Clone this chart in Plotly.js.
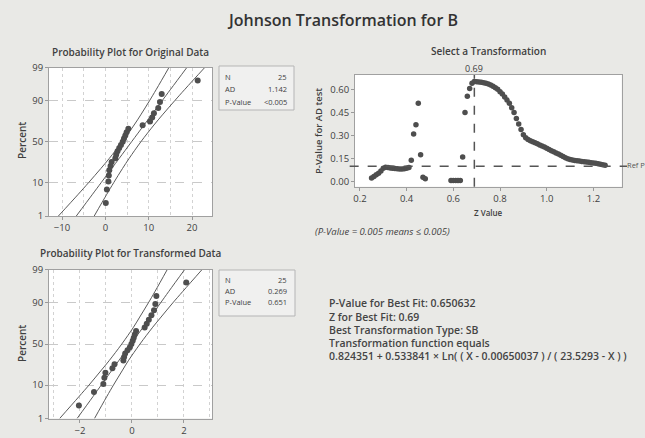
<!DOCTYPE html>
<html><head><meta charset="utf-8">
<script src="https://cdn.plot.ly/plotly-3.0.1.min.js"></script>
<style>html,body{margin:0;padding:0;background:#e9e9e6;}#chart{width:645px;height:438px;}</style>
</head><body><div id="chart"></div>
<script>
// ---------- data ----------
const probTickPct = [1, 10, 50, 90, 99];
const probTickText = ["1", "10", "50", "90", "99"];

const origX = [0.1, 0.35, 0.7, 0.8, 0.9, 1.2, 1.45, 2.3, 2.5, 2.8, 3.2, 3.6, 4.0, 4.3, 4.6, 4.9, 5.3, 8.6, 10.3, 10.8, 11.2, 12.2, 12.6, 13.0, 21.3];
const rankPct = [2.76, 6.69, 10.63, 14.57, 18.50, 22.44, 26.38, 30.31, 34.25, 38.19, 42.13, 46.06, 50.00, 53.94, 57.87, 61.81, 65.75, 69.69, 73.62, 77.56, 81.50, 85.43, 89.37, 93.31, 97.24];
const bandPct = [1, 5, 10, 20, 30, 50, 70, 80, 90, 95, 99];
const origFit = [-6.70, -2.96, -0.97, 1.44, 3.18, 6.05, 8.92, 10.66, 13.07, 15.06, 18.80];
const origLower = [-10.83, -6.25, -3.87, -1.06, 0.89, 3.90, 6.63, 8.16, 10.17, 11.77, 14.67];
const origUpper = [-2.57, 0.33, 1.93, 3.94, 5.47, 8.20, 11.21, 13.16, 15.97, 18.35, 22.93];
const origStatLabels = ["N", "AD", "P-Value"];
const origStatValues = ["25", "1.142", "<0.005"];

const transX = [-2.04, -1.46, -1.10, -1.06, -1.02, -0.75, -0.67, -0.33, -0.30, -0.26, -0.17, -0.08, -0.02, 0.03, 0.07, 0.11, 0.16, 0.49, 0.57, 0.65, 0.75, 0.85, 0.90, 0.94, 2.09];
const transFit = [-2.11, -1.50, -1.18, -0.79, -0.51, -0.04, 0.43, 0.71, 1.10, 1.42, 2.03];
const transLower = [-2.78, -2.04, -1.65, -1.20, -0.88, -0.39, 0.06, 0.30, 0.63, 0.89, 1.36];
const transUpper = [-1.44, -0.97, -0.71, -0.38, -0.14, 0.31, 0.80, 1.12, 1.57, 1.96, 2.70];
const transStatLabels = ["N", "AD", "P-Value"];
const transStatValues = ["25", "0.269", "0.651"];

const zValue = [0.25,0.26,0.27,0.28,0.29,0.30,0.31,0.32,0.33,0.34,0.35,0.36,0.37,0.38,0.39,0.40,0.41,
  0.42,0.43,0.44,0.45,0.46,0.47,0.48,
  0.59,0.60,0.61,0.62,0.63,
  0.64,0.65,0.66,0.67,0.68,0.69,0.70,0.71,0.72,0.73,0.74,0.75,0.76,0.77,0.78,0.79,
  0.80,0.81,0.82,0.83,0.84,0.85,0.86,0.87,0.88,0.89,0.90,0.91,0.92,0.93,0.94,0.95,0.96,0.97,0.98,0.99,
  1.00,1.01,1.02,1.03,1.04,1.05,1.06,1.07,1.08,1.09,1.10,1.11,1.12,1.13,1.14,1.15,1.16,1.17,1.18,1.19,
  1.20,1.21,1.22,1.23,1.24,1.25];
const adPValue = [0.025,0.035,0.045,0.055,0.070,0.088,0.095,0.093,0.090,0.088,0.086,0.084,0.083,0.083,0.085,0.088,0.092,
  0.14,0.31,0.37,0.51,0.175,0.03,0.02,
  0.008,0.008,0.008,0.008,0.008,
  0.16,0.45,0.555,0.605,0.64,0.6506,0.649,0.648,0.646,0.643,0.640,0.635,0.628,0.620,0.610,0.600,
  0.585,0.570,0.550,0.530,0.510,0.480,0.450,0.410,0.375,0.340,0.305,0.285,0.275,0.267,0.260,0.253,0.246,0.239,0.232,0.225,
  0.217,0.210,0.202,0.195,0.187,0.180,0.172,0.164,0.156,0.150,0.145,0.141,0.138,0.136,0.134,0.132,0.130,0.128,0.126,0.124,
  0.122,0.120,0.117,0.114,0.111,0.108];
const bestZ = 0.69;
const refP = 0.10;
const pTickVals = [0, 0.15, 0.30, 0.45, 0.60];
const pTickText = ["0.00", "0.15", "0.30", "0.45", "0.60"];
const zTickVals = [0.2, 0.4, 0.6, 0.8, 1.0, 1.2];
const zTickText = ["0.2", "0.4", "0.6", "0.8", "1.0", "1.2"];

const infoLines = ["P-Value for Best Fit: 0.650632", "Z for Best Fit: 0.69", "Best Transformation Type: SB",
  "Transformation function equals", "0.824351 + 0.533841 × Ln( ( X - 0.00650037 ) / ( 23.5293 - X ) )"];

// ---------- normal probability scale ----------
function qnorm(p){
  const a=[-3.969683028665376e+01,2.209460984245205e+02,-2.759285104469687e+02,1.383577518672690e+02,-3.066479806614716e+01,2.506628277459239e+00];
  const b=[-5.447609879822406e+01,1.615858368580409e+02,-1.556989798598866e+02,6.680131188771972e+01,-1.328068155288572e+01];
  const c=[-7.784894002430293e-03,-3.223964580411365e-01,-2.400758277161838e+00,-2.549732539343734e+00,4.374664141464968e+00,2.938163982698783e+00];
  const d=[7.784695709041462e-03,3.224671290700398e-01,2.445134137142996e+00,3.754408661907416e+00];
  const pl=0.02425, ph=1-pl; let q,r;
  if(p<pl){q=Math.sqrt(-2*Math.log(p));return (((((c[0]*q+c[1])*q+c[2])*q+c[3])*q+c[4])*q+c[5])/((((d[0]*q+d[1])*q+d[2])*q+d[3])*q+1);}
  if(p<=ph){q=p-0.5;r=q*q;return (((((a[0]*r+a[1])*r+a[2])*r+a[3])*r+a[4])*r+a[5])*q/(((((b[0]*r+b[1])*r+b[2])*r+b[3])*r+b[4])*r+1);}
  q=Math.sqrt(-2*Math.log(1-p));return -(((((c[0]*q+c[1])*q+c[2])*q+c[3])*q+c[4])*q+c[5])/((((d[0]*q+d[1])*q+d[2])*q+d[3])*q+1);
}
const pz = arr => arr.map(v => qnorm(v/100));

// ---------- layout helpers ----------
const W = 645, H = 438;
const fx = px => px / W;
const fy = py => 1 - py / H;
const FONT = "Open Sans, Noto Sans, sans-serif";
const TXT = "#3f3f3f";
const MK = "#4e4e4e";
const LN = "#5a5a5a";

const line = (x, y, xa, ya) => ({x, y, xaxis: xa, yaxis: ya, type: "scatter", mode: "lines",
  line: {color: LN, width: 1, shape: "spline"}, hoverinfo: "skip"});
const pts = (x, y, xa, ya, s) => ({x, y, xaxis: xa, yaxis: ya, type: "scatter", mode: "markers",
  marker: {color: MK, size: s}});

const data = [
  line(origLower, pz(bandPct), "x", "y"),
  line(origFit, pz(bandPct), "x", "y"),
  line(origUpper, pz(bandPct), "x", "y"),
  pts(origX, pz(rankPct), "x", "y", 6),
  pts(zValue, adPValue, "x2", "y2", 5.5),
  line(transLower, pz(bandPct), "x3", "y3"),
  line(transFit, pz(bandPct), "x3", "y3"),
  line(transUpper, pz(bandPct), "x3", "y3"),
  pts(transX, pz(rankPct), "x3", "y3", 6)
];

const baseAxis = {
  showline: true, mirror: true, linecolor: "#a0a0a0", linewidth: 1,
  ticks: "outside", ticklen: 3, tickcolor: "#999", zeroline: false,
  tickfont: {family: FONT, size: 9.5, color: TXT}
};
const probY = Object.assign({}, baseAxis, {
  range: [qnorm(0.01), qnorm(0.99)], tickvals: pz(probTickPct), ticktext: probTickText,
  showgrid: true, gridcolor: "#c9c9c9", griddash: "dash", gridwidth: 1
});

const layout = {
  width: W, height: H, margin: {l: 0, r: 0, t: 0, b: 0},
  paper_bgcolor: "#e9e9e6", plot_bgcolor: "#ffffff", showlegend: false,
  font: {family: FONT, color: TXT},
  xaxis: Object.assign({}, baseAxis, {domain: [fx(49), fx(212)], anchor: "y", range: [-13.0, 24.6],
    tickvals: [-10, 0, 10, 20], showgrid: true, gridcolor: "#d2d2d2", griddash: "dot",
    minor: {dtick: 5, tick0: 0, showgrid: true, gridcolor: "#d2d2d2", griddash: "dot", ticks: ""}}),
  yaxis: Object.assign({}, probY, {domain: [fy(216), fy(67.5)], anchor: "x"}),
  xaxis2: Object.assign({}, baseAxis, {domain: [fx(355), fx(621.7)], anchor: "y2", range: [0.179, 1.321],
    tickvals: zTickVals, ticktext: zTickText, showgrid: false}),
  yaxis2: Object.assign({}, baseAxis, {domain: [fy(186.7), fy(75)], anchor: "x2", range: [-0.032, 0.693],
    tickvals: pTickVals, ticktext: pTickText, showgrid: false}),
  xaxis3: Object.assign({}, baseAxis, {domain: [fx(49), fx(212)], anchor: "y3", range: [-3.19, 3.08],
    tickvals: [-2, 0, 2], showgrid: true, gridcolor: "#d2d2d2", griddash: "dot",
    minor: {dtick: 1, tick0: 0, showgrid: true, gridcolor: "#d2d2d2", griddash: "dot", ticks: ""}}),
  yaxis3: Object.assign({}, probY, {domain: [fy(418.5), fy(269.5)], anchor: "x3"}),
  shapes: [
    {type: "line", xref: "x2", yref: "y2 domain", x0: bestZ, x1: bestZ, y0: 0, y1: 1,
      line: {color: "#555", width: 1.5, dash: "dash"}},
    {type: "line", xref: "x2 domain", yref: "y2", x0: -0.02, x1: 1.02, y0: refP, y1: refP,
      line: {color: "#555", width: 1.5, dash: "dash"}},
    {type: "rect", xref: "paper", yref: "paper", x0: fx(219), x1: fx(294), y0: fy(110), y1: fy(66),
      line: {color: "#b5b5b5", width: 1}, fillcolor: "rgba(255,255,255,0.35)"},
    {type: "rect", xref: "paper", yref: "paper", x0: fx(219), x1: fx(295), y0: fy(316), y1: fy(270),
      line: {color: "#b5b5b5", width: 1}, fillcolor: "rgba(255,255,255,0.35)"}
  ],
  annotations: []
};

const ann = (text, x, y, opts) => layout.annotations.push(Object.assign({
  text, x: fx(x), y: fy(y), xref: "paper", yref: "paper", showarrow: false,
  xanchor: "center", yanchor: "middle", font: {family: FONT, size: 10, color: TXT}
}, opts || {}));

ann("Johnson Transformation for B", 342, 20, {font: {family: FONT, size: 16, color: "#333", weight: 600}});
ann("Probability Plot for Original Data", 130, 52, {font: {family: FONT, size: 10, color: TXT, weight: 600}});
ann("Select a Transformation", 488, 51, {font: {family: FONT, size: 10, color: TXT, weight: 600}});
ann("Probability Plot for Transformed Data", 131, 253, {font: {family: FONT, size: 10, color: TXT, weight: 600}});
ann("Percent", 22, 141, {textangle: -90, font: {family: FONT, size: 10, color: TXT, weight: 600}});
ann("Percent", 22, 344, {textangle: -90, font: {family: FONT, size: 10, color: TXT, weight: 600}});
ann("P-Value for AD test", 318, 131, {textangle: -90, font: {family: FONT, size: 9.5, color: TXT, weight: 600}});
ann("Z Value", 488, 212, {font: {family: FONT, size: 8, color: TXT, weight: 600}});
ann(String(bestZ), 474, 69, {font: {family: FONT, size: 9, color: TXT}});
ann("Ref P", 625, 165, {xanchor: "left", font: {family: FONT, size: 7.5, color: "#555"}});
ann("(P-Value = 0.005 means ≤ 0.005)", 382, 231, {font: {family: FONT, size: 9.5, color: TXT, style: "italic"}});

const rows1 = [77, 89, 101.5], rows2 = [279.5, 290.5, 301.5];
origStatLabels.forEach((t, i) => ann(t, 223, rows1[i], {xanchor: "left", font: {family: FONT, size: 7.5, color: TXT}}));
origStatValues.forEach((t, i) => ann(t, 289, rows1[i], {xanchor: "right", font: {family: FONT, size: 7.5, color: TXT}}));
transStatLabels.forEach((t, i) => ann(t, 223, rows2[i], {xanchor: "left", font: {family: FONT, size: 7.5, color: TXT}}));
transStatValues.forEach((t, i) => ann(t, 289, rows2[i], {xanchor: "right", font: {family: FONT, size: 7.5, color: TXT}}));

const infoY = [303, 317, 330, 342.5, 355.5];
infoLines.forEach((t, i) => ann(t, 327, infoY[i], {xanchor: "left", font: {family: FONT, size: 10.5, color: "#444", weight: 600}}));

Plotly.newPlot("chart", data, layout, {staticPlot: true, displayModeBar: false});
</script></body></html>
